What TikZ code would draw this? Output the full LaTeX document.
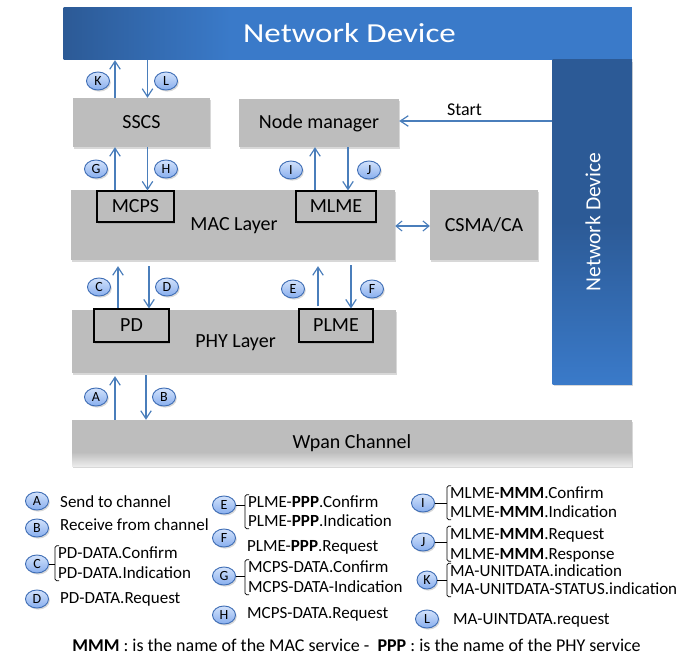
\documentclass[tikz,border=0pt]{standalone}
\usepackage{fontspec}
\setmainfont{Carlito}
\newfontfamily\titlefont[FakeStretch=1.2]{Carlito}
\usetikzlibrary{arrows.meta,shapes.geometric,shadows,calc}
\definecolor{boxgray}{HTML}{BDBDBD}
\definecolor{lightgray2}{HTML}{EBEBEB}
\definecolor{arrowblue}{HTML}{4A7EBB}
\definecolor{barblue}{HTML}{3A7AC9}
\definecolor{bardark}{HTML}{2C5A96}
\definecolor{circtop}{HTML}{D2E2FB}
\definecolor{circbot}{HTML}{88AEEE}
\definecolor{circline}{HTML}{3E6DB5}
\begin{document}
\begin{tikzpicture}[x=1pt,y=-1pt,
  shad/.style={drop shadow={shadow xshift=1.3pt,shadow yshift=-1.6pt,opacity=0.3}},
  box/.style={draw=none,fill=boxgray,inner sep=0,shad,font=\fontsize{20}{22}\selectfont},
  inbox/.style={draw=black,line width=1.1pt,fill=boxgray,inner sep=0,shad,font=\fontsize{20}{22}\selectfont},
  circ/.style={ellipse,draw=circline,line width=0.9pt,top color=circtop,bottom color=circbot,
    minimum width=23,minimum height=18,inner sep=0,font=\fontsize{14}{14}\selectfont,shad},
  arr/.style={draw=arrowblue,line width=1.2pt,-{Straight Barb[length=8pt,width=10.5pt]}},
  dbl/.style={draw=arrowblue,line width=1.1pt,{Straight Barb[length=6pt,width=10pt]}-{Straight Barb[length=6pt,width=10pt]}},
  ltxt/.style={anchor=west,inner sep=0,text height=11,text depth=0,font=\fontsize{17}{20}\selectfont},
  brk/.style={draw=black,line width=0.7pt}
]
\useasboundingbox[fill=white] (0,0) rectangle (696,655);

% blue network device frame
\node[draw=none,fill=barblue,minimum width=568.5,minimum height=52.5,inner sep=0] (top) at (347.75,33.75) {};
\fill[left color=bardark,right color=barblue] (63.5,7.5) rectangle (230,60);
\node[text=white,font=\titlefont\fontsize{27.5}{30}\selectfont] (toptxt) at (349.5,33.5) {Network Device};
\node[draw=none,top color=bardark,bottom color=barblue,middle color=bardark,
      minimum width=79.5,minimum height=324,inner sep=0,shad] (rbar) at (592.25,222) {};
\node[rotate=90,text=white,font=\fontsize{21.5}{24}\selectfont] (rtxt) at (593,222) {Network Device};

% boxes
\node[box,minimum width=137,minimum height=49] (sscs) at (141.5,122.5) {SSCS};
\node[box,minimum width=160,minimum height=48] (nm) at (319,123) {Node manager};
\node[box,minimum width=324,minimum height=70] (mac) at (233,225) {};
\node[font=\fontsize{20}{22}\selectfont] (mactxt) at (234,226) {MAC Layer};
\node[box,minimum width=108,minimum height=70] (csma) at (484,225) {CSMA/CA};
\node[box,minimum width=324,minimum height=63] (phy) at (234,341.5) {};
\node[font=\fontsize{20}{22}\selectfont] (phytxt) at (235.5,343) {PHY Layer};
\node[box,minimum width=560,minimum height=46] (wpan) at (352,443) {};
\fill[top color=boxgray,bottom color=lightgray2] (72,452) rectangle (632,466);
\node[font=\fontsize{20}{22}\selectfont] (wpantxt) at (352,443) {Wpan Channel};
\node[inbox,minimum width=77,minimum height=31] (mcps) at (135.5,206.5) {MCPS};
\node[inbox,minimum width=80,minimum height=31] (mlme) at (336,206.5) {MLME};
\node[inbox,minimum width=75,minimum height=33] (pd) at (131.5,325.5) {PD};
\node[inbox,minimum width=74,minimum height=33] (plme) at (336,325.5) {PLME};

% arrow x positions
\coordinate (xK) at (115,0);
\coordinate (xL) at (147.5,0);
\coordinate (xI) at (315,0);
\coordinate (xJ) at (348,0);
\coordinate (xC) at (118,0);
\coordinate (xD) at (149,0);
\coordinate (xE) at (318,0);
\coordinate (xF) at (351,0);
\coordinate (xA) at (115,0);
\coordinate (xB) at (146,0);
\coordinate (yS) at (0,121);
\coordinate (yM) at (0,226);

\draw[arr] (xK |- sscs.north) -- (xK |- top.south);
\draw[arr] (xL |- top.south) -- (xL |- sscs.north);
\draw[arr] (xK |- mcps.north) -- (xK |- sscs.south);
\draw[arr] (xL |- sscs.south) -- (xL |- mcps.north);
\draw[arr] (xI |- mlme.north) -- (xI |- nm.south);
\draw[arr] (xJ |- nm.south) -- (xJ |- mlme.north);
\draw[arr,shorten >=6pt] (xC |- pd.north) -- (xC |- mac.south);
\draw[arr,shorten <=6pt] (xD |- mac.south) -- (xD |- pd.north);
\draw[arr,shorten >=6pt,shorten <=2pt] (xE |- plme.north) -- (xE |- mac.south);
\draw[arr,shorten <=5pt] (xF |- mac.south) -- (xF |- plme.north);
\draw[arr,shorten >=3pt] (xA |- wpan.north) -- (xA |- phy.south);
\draw[arr,shorten <=2pt] (xB |- phy.south) -- (xB |- wpan.north);
\draw[arr] (rbar.west |- yS) -- (nm.east |- yS);
\node[font=\fontsize{18}{20}\selectfont] (start) at (464.5,110) {Start};
\draw[dbl] (mac.east |- yM) -- (csma.west |- yM);

% circles on diagram
\node[circ] (cK) at (98,81) {K};
\node[circ] (cL) at (166,81) {L};
\node[circ] (cG) at (96,169) {G};
\node[circ] (cH) at (166,169) {H};
\node[circ] (cI) at (291,170) {I};
\node[circ] (cJ) at (369,170) {J};
\node[circ] (cC) at (99,287) {C};
\node[circ] (cD) at (167,287) {D};
\node[circ] (cE) at (293,289) {E};
\node[circ] (cF) at (372,289) {F};
\node[circ] (cA) at (96,397) {A};
\node[circ] (cB) at (164,397) {B};

% legend
\node[circ] (lA) at (37,501) {A};
\node[ltxt] (tA) at (60,502) {Send to channel};
\node[circ] (lB) at (37,528) {B};
\node[ltxt] (tB) at (60,525) {Receive from channel};
\node[circ] (lC) at (37,564) {C};
\node[ltxt] (tC1) at (58,553) {PD-DATA.Confirm};
\node[ltxt] (tC2) at (58,573) {PD-DATA.Indication};
\node[circ] (lD) at (37,599) {D};
\node[ltxt] (tD) at (60,598) {PD-DATA.Request};

\node[circ] (lE) at (224,505) {E};
\node[ltxt] (tE1) at (248,502) {PLME-\textbf{PPP}.Confirm};
\node[ltxt] (tE2) at (248,521) {PLME-\textbf{PPP}.Indication};
\node[circ] (lF) at (224,538) {F};
\node[ltxt] (tF) at (247,546) {PLME-\textbf{PPP}.Request};
\node[circ] (lG) at (224,576) {G};
\node[ltxt] (tG1) at (248,567) {MCPS-DATA.Confirm};
\node[ltxt] (tG2) at (248,587) {MCPS-DATA-Indication};
\node[circ] (lH) at (224,615) {H};
\node[ltxt] (tH) at (247,613) {MCPS-DATA.Request};

\node[circ] (lI) at (423,503) {I};
\node[ltxt] (tI1) at (450,493) {MLME-\textbf{MMM}.Confirm};
\node[ltxt] (tI2) at (450,512) {MLME-\textbf{MMM}.Indication};
\node[circ] (lJ) at (423,542) {J};
\node[ltxt] (tJ1) at (450,533.5) {MLME-\textbf{MMM}.Request};
\node[ltxt] (tJ2) at (450,553.5) {MLME-\textbf{MMM}.Response};
\node[circ,minimum width=20,minimum height=18] (lK) at (427,580) {K};
\node[ltxt] (tK1) at (450,570.5) {MA-UNITDATA.indication};
\node[ltxt] (tK2) at (450,589) {MA-UNITDATA-STATUS.indication};
\node[circ] (lL) at (427,619) {L};
\node[ltxt] (tL) at (453,619) {MA-UINTDATA.request};

% brackets
\foreach \c/\a/\b in {lC/tC1/tC2,lE/tE1/tE2,lG/tG1/tG2,lI/tI1/tI2,lJ/tJ1/tJ2,lK/tK1/tK2}{
  \draw[brk] (\c.east) -- ($(\a.west |- \c.east)+(-3,0)$);
  \draw[brk,rounded corners=1.5pt] ($(\a.north west)+(1,-1.5)$) -- ($(\a.north west)+(-3,-1.5)$)
     -- ($(\b.south west)+(-3,2)$) -- ($(\b.south west)+(1,2)$);
}

\node[inner sep=0,font=\fontsize{18}{20}\selectfont] (foot) at (356.5,645)
  {\textbf{MMM} : is the name of the MAC service -\ \ \textbf{PPP} : is the name of the PHY service};
\end{tikzpicture}
\end{document}
